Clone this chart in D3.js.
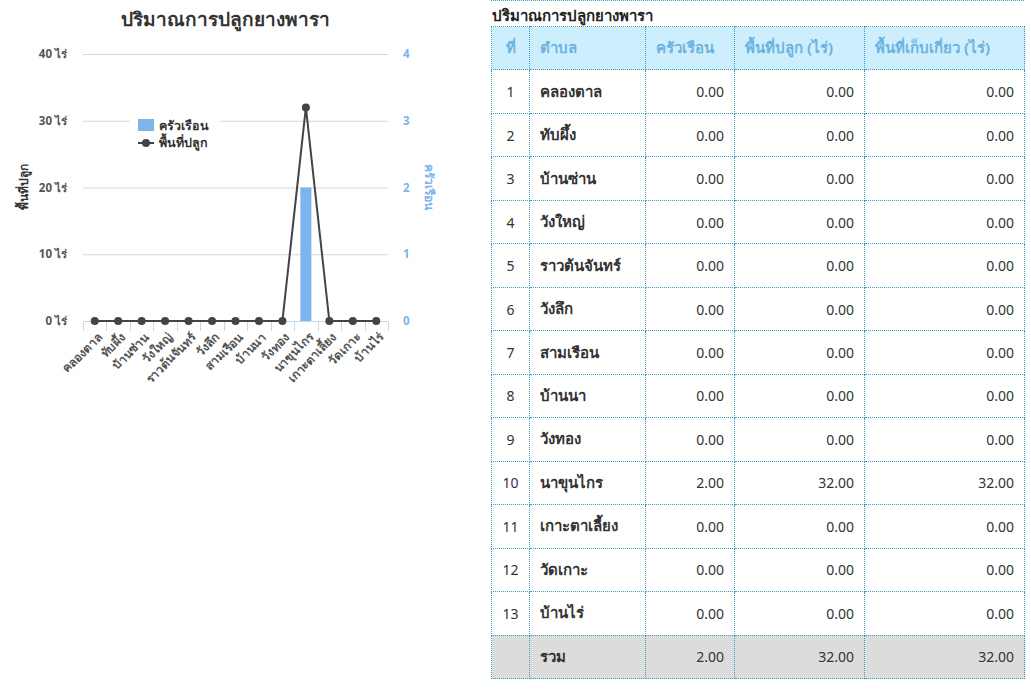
<!DOCTYPE html>
<html><head><meta charset="utf-8">
<script src="https://cdn.jsdelivr.net/npm/d3@7"></script>
<style>
body{margin:0;background:#fff;font-family:"Noto Sans","Open Sans",sans-serif;}
#chart{position:absolute;left:0;top:0;}
#tbl{position:absolute;left:491px;top:0;width:533px;}
.cap{font-size:15px;color:#222;height:26px;line-height:28px;border-top:1px dotted #3c9cc0;padding-left:1px;font-weight:600;box-sizing:border-box}
table{border-collapse:collapse;width:533px;font-size:14px;table-layout:fixed}
td,th{border:1px dotted #3c9cc0;height:43.47px;padding:0 10px;box-sizing:border-box;}
th{background:#cdeefc;color:#6db3e0;font-weight:700;text-align:left;font-size:15px}
td{color:#333;}
td.n{text-align:right;}
td.c{text-align:center;}
td.name{font-weight:600;font-size:15px}
tr.tot td{background:#dcdcdc;}
</style></head><body>
<svg id="chart" width="490" height="689"></svg>
<div id="tbl"></div>
<script>
const title = "ปริมาณการปลูกยางพารา";
const categories = ["คลองตาล","ทับผึ้ง","บ้านซ่าน","วังใหญ่","ราวต้นจันทร์","วังลึก","สามเรือน","บ้านนา","วังทอง","นาขุนไกร","เกาะตาเลี้ยง","วัดเกาะ","บ้านไร่"];
const households = [0,0,0,0,0,0,0,0,0,2,0,0,0];
const planted = [0,0,0,0,0,0,0,0,0,32,0,0,0];
const harvested = [0,0,0,0,0,0,0,0,0,32,0,0,0];
const leftTicks = [0,10,20,30,40];
const rightTicks = [0,1,2,3,4];
const headers = ["ที่","ตำบล","ครัวเรือน","พื้นที่ปลูก (ไร่)","พื้นที่เก็บเกี่ยว (ไร่)"];
const totalLabel = "รวม";

const svg = d3.select("#chart");
const L=83,R=388,T=54,B=321;
const x = d3.scaleBand().domain(categories).range([L,R]);
const yL = d3.scaleLinear().domain([0,40]).range([B,T]);
const yR = d3.scaleLinear().domain([0,4]).range([B,T]);
const font = '"Noto Sans","Open Sans",sans-serif';

svg.append("text").attr("x",225).attr("y",26).attr("text-anchor","middle")
  .attr("font-size",19).attr("font-weight",700).attr("fill","#333").attr("font-family",font).text(title);

// gridlines
svg.append("g").selectAll("line").data(leftTicks.filter(d=>d>0)).join("line")
  .attr("x1",L).attr("x2",R).attr("y1",d=>yL(d)+0.5).attr("y2",d=>yL(d)+0.5)
  .attr("stroke","#d8d8d8").attr("stroke-width",1);

// left labels
svg.append("g").selectAll("text").data(leftTicks).join("text")
  .attr("x",67).attr("y",d=>yL(d)+4).attr("text-anchor","end")
  .attr("font-size",11.5).attr("font-weight",700).attr("fill","#555").attr("font-family",font)
  .text(d=>d+" ไร่");
// right labels
svg.append("g").selectAll("text").data(rightTicks).join("text")
  .attr("x",403).attr("y",d=>yR(d)+4).attr("text-anchor","start")
  .attr("font-size",11.5).attr("font-weight",700).attr("fill","#7cb5ec").attr("font-family",font)
  .text(d=>d);

// axis titles
svg.append("text").attr("transform",`translate(28,187) rotate(-90)`).attr("text-anchor","middle")
  .attr("font-size",12).attr("font-weight",700).attr("fill","#333").attr("font-family",font).text("พื้นที่ปลูก");
svg.append("text").attr("transform",`translate(425,187) rotate(90)`).attr("text-anchor","middle")
  .attr("font-size",12).attr("font-weight",700).attr("fill","#7cb5ec").attr("font-family",font).text("ครัวเรือน");

// x axis
const xa = svg.append("g").attr("transform",`translate(0,${B})`)
  .call(d3.axisBottom(x).tickSize(0).tickPadding(0));
xa.select(".domain").attr("stroke","#ccd6eb").attr("d",`M${L},0.5H${R}`);
xa.selectAll(".tick text").attr("font-size",12).attr("font-weight",600).attr("fill","#555").attr("font-family",font)
  .attr("text-anchor","end").attr("transform","translate(5,14) rotate(-45)").attr("dy","0.35em");
const bounds = categories.map(c=>x(c)).concat([R]);
svg.append("g").selectAll("line").data(bounds).join("line")
  .attr("x1",d=>Math.round(d)+0.5).attr("x2",d=>Math.round(d)+0.5).attr("y1",B).attr("y2",B+10)
  .attr("stroke","#ccd6eb");

// bars
const bw = 11;
svg.append("g").selectAll("rect").data(households.map((v,i)=>({v,c:categories[i]}))).join("rect")
  .attr("x",d=>x(d.c)+x.bandwidth()/2-bw/2).attr("width",bw)
  .attr("y",d=>yR(d.v)).attr("height",d=>B-yR(d.v)).attr("fill","#7cb5ec");

// line
const pts = planted.map((v,i)=>({v,c:categories[i]}));
svg.append("path").datum(pts)
  .attr("d",d3.line().x(d=>x(d.c)+x.bandwidth()/2).y(d=>yL(d.v)))
  .attr("fill","none").attr("stroke","#434348").attr("stroke-width",2);
svg.append("g").selectAll("circle").data(pts).join("circle")
  .attr("cx",d=>x(d.c)+x.bandwidth()/2).attr("cy",d=>yL(d.v)).attr("r",4).attr("fill","#434348");

// legend
const lg = svg.append("g").attr("transform","translate(130,112)");
lg.append("rect").attr("width",90).attr("height",44).attr("fill","#fff");
lg.append("rect").attr("x",8).attr("y",7).attr("width",16).attr("height",12).attr("fill","#7cb5ec");
lg.append("text").attr("x",29).attr("y",18).attr("font-size",12.5).attr("font-weight",700).attr("fill","#333").attr("font-family",font).text("ครัวเรือน");
lg.append("line").attr("x1",8).attr("x2",24).attr("y1",31).attr("y2",31).attr("stroke","#434348").attr("stroke-width",2);
lg.append("circle").attr("cx",16).attr("cy",31).attr("r",4).attr("fill","#434348");
lg.append("text").attr("x",29).attr("y",35).attr("font-size",12.5).attr("font-weight",700).attr("fill","#333").attr("font-family",font).text("พื้นที่ปลูก");

// table
const div = d3.select("#tbl");
div.append("div").attr("class","cap").text(title);
const table = div.append("table");
const widths = [38,116,89,130,160];
const cg = table.append("colgroup");
widths.forEach(w=>cg.append("col").style("width",w+"px"));
const hr = table.append("thead").append("tr");
hr.selectAll("th").data(headers).join("th")
  .style("text-align",(d,i)=>i===0?"center":"left").text(d=>d);
const tb = table.append("tbody");
const fmt = d3.format(".2f");
categories.forEach((c,i)=>{
  const tr = tb.append("tr");
  tr.append("td").attr("class","c").text(i+1);
  tr.append("td").attr("class","name").text(c);
  tr.append("td").attr("class","n").text(fmt(households[i]));
  tr.append("td").attr("class","n").text(fmt(planted[i]));
  tr.append("td").attr("class","n").text(fmt(harvested[i]));
});
const tt = tb.append("tr").attr("class","tot");
tt.append("td");
tt.append("td").attr("class","name").text(totalLabel);
tt.append("td").attr("class","n").text(fmt(d3.sum(households)));
tt.append("td").attr("class","n").text(fmt(d3.sum(planted)));
tt.append("td").attr("class","n").text(fmt(d3.sum(harvested)));
</script>
</body></html>
